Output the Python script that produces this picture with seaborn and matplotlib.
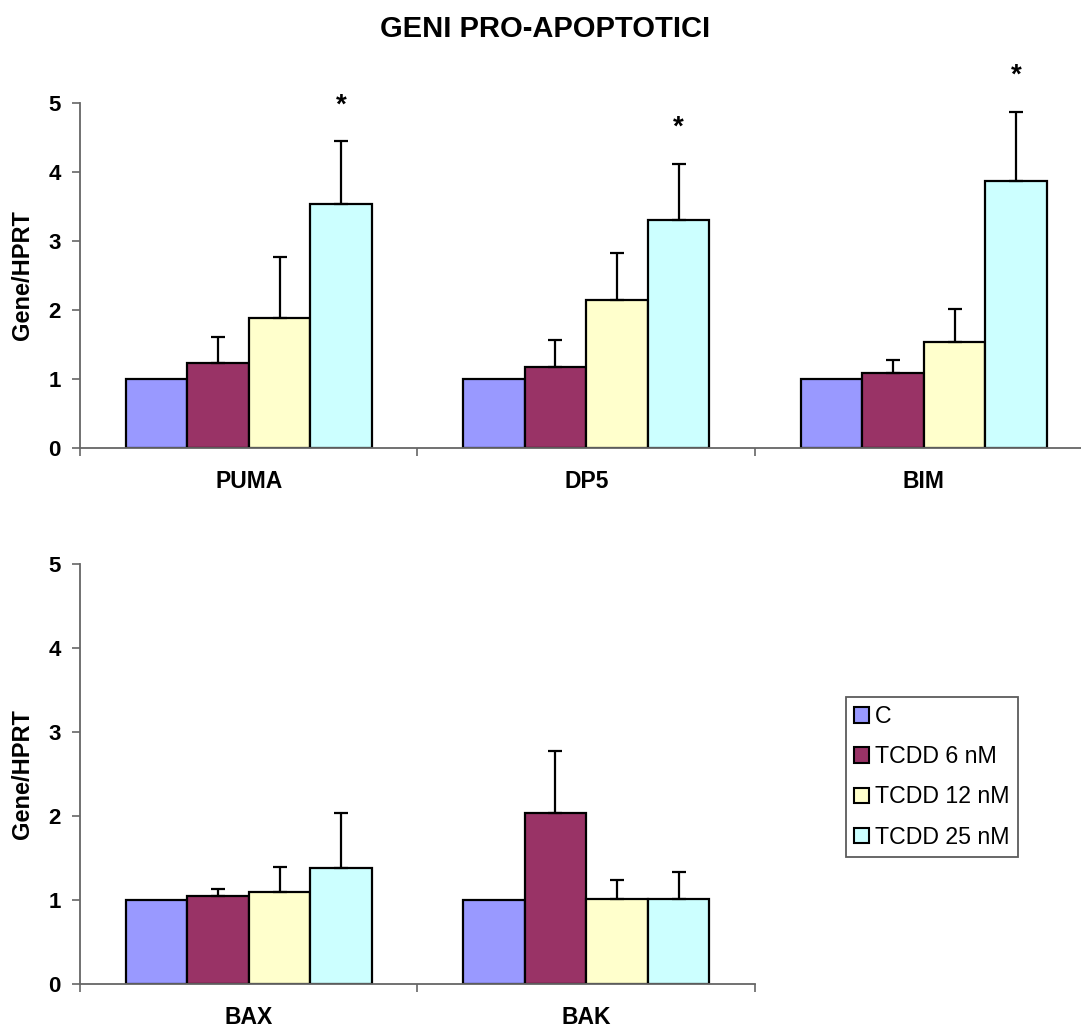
import pandas as pd
import seaborn as sns
import matplotlib.pyplot as plt
from matplotlib.patches import Patch

# Data
treatments = ["C", "TCDD 6 nM", "TCDD 12 nM", "TCDD 25 nM"]
colors = ["#9999FF", "#993366", "#FFFFCC", "#CCFFFF"]

top_genes = ["PUMA", "DP5", "BIM"]
top_c = [1.0, 1.0, 1.0]
top_6 = [1.23, 1.17, 1.08]
top_12 = [1.89, 2.15, 1.53]
top_25 = [3.54, 3.30, 3.87]
top_err_c = [0.0, 0.0, 0.0]
top_err_6 = [0.38, 0.40, 0.19]
top_err_12 = [0.87, 0.67, 0.49]
top_err_25 = [0.90, 0.82, 1.00]
top_stars_25 = ["*", "*", "*"]

bottom_genes = ["BAX", "BAK"]
bottom_c = [1.0, 1.0]
bottom_6 = [1.05, 2.04]
bottom_12 = [1.10, 1.02]
bottom_25 = [1.38, 1.02]
bottom_err_c = [0.0, 0.0]
bottom_err_6 = [0.09, 0.74]
bottom_err_12 = [0.29, 0.22]
bottom_err_25 = [0.66, 0.32]


def long_table(genes, values):
    rows = []
    for t, vals in zip(treatments, values):
        for g, v in zip(genes, vals):
            rows.append({"gene": g, "treatment": t, "value": v})
    return pd.DataFrame(rows)


sns.set_style("white")
plt.rcParams["font.family"] = ["Liberation Sans", "DejaVu Sans"]
plt.rcParams["text.color"] = "black"
plt.rcParams["axes.labelcolor"] = "black"
plt.rcParams["xtick.labelcolor"] = "black"
plt.rcParams["ytick.labelcolor"] = "black"

fig = plt.figure(figsize=(10.81, 10.30), dpi=100)
ax_top = fig.add_axes([0.074, 0.565, 0.9366, 0.3352])
ax_bot = fig.add_axes([0.074, 0.0444, 0.6244, 0.4078])


def draw_panel(ax, genes, values, errors, stars=None):
    df = long_table(genes, values)
    sns.barplot(data=df, x="gene", y="value", hue="treatment",
                hue_order=treatments, order=genes, palette=colors,
                width=0.73, errorbar=None, edgecolor="black",
                linewidth=1.6, saturation=1, legend=False, ax=ax)
    bar_groups = list(ax.containers)
    for cont, errs in zip(bar_groups, errors):
        for bar, e in zip(cont, errs):
            if e <= 0:
                continue
            x = bar.get_x() + bar.get_width() / 2
            y = bar.get_height()
            ax.errorbar(x, y, yerr=[[0], [e]], fmt="none", ecolor="black",
                        elinewidth=1.6, capsize=5, capthick=1.6, zorder=1)
    if stars is not None:
        for bar, e, s in zip(bar_groups[-1], errors[-1], stars):
            x = bar.get_x() + bar.get_width() / 2
            ax.annotate(s, (x, bar.get_height() + e), xytext=(0, 26),
                        textcoords="offset points", ha="center", va="center",
                        fontsize=20, fontweight="bold")
    n = len(genes)
    ax.set_xlim(-0.5, n - 0.5)
    ax.set_ylim(0, 5)
    ax.set_yticks([0, 1, 2, 3, 4, 5])
    ax.set_xticks(range(n))
    ax.set_xticklabels(genes, fontsize=16.5, fontweight="bold")
    ax.set_xticks([i - 0.5 for i in range(n + 1)], minor=True)
    ax.tick_params(axis="x", which="major", length=0, pad=16)
    ax.tick_params(axis="x", which="minor", length=6, width=1.2,
                   direction="out", color="#666666", bottom=True)
    ax.tick_params(axis="y", length=6, width=1.2, direction="out",
                   color="#666666", left=True, labelsize=16, pad=8)
    for lab in ax.get_yticklabels():
        lab.set_fontweight("bold")
    ax.set_xlabel("")
    ax.set_ylabel("Gene/HPRT", fontsize=17, fontweight="bold", labelpad=10)
    for side in ["top", "right"]:
        ax.spines[side].set_visible(False)
    for side in ["left", "bottom"]:
        ax.spines[side].set_color("#666666")
        ax.spines[side].set_linewidth(1.3)


draw_panel(ax_top, top_genes, [top_c, top_6, top_12, top_25],
           [top_err_c, top_err_6, top_err_12, top_err_25], top_stars_25)
draw_panel(ax_bot, bottom_genes, [bottom_c, bottom_6, bottom_12, bottom_25],
           [bottom_err_c, bottom_err_6, bottom_err_12, bottom_err_25])

fig.text(0.504, 0.9641, "GENI PRO-APOPTOTICI", ha="center", va="baseline",
         fontsize=21, fontweight="bold")

handles = [Patch(facecolor=c, edgecolor="black", linewidth=1.5) for c in colors]
leg = fig.legend(handles, treatments, loc="upper left",
                 bbox_to_anchor=(0.7826, 0.3233), bbox_transform=fig.transFigure,
                 fontsize=16.7, frameon=True, fancybox=False, edgecolor="#333333",
                 handlelength=0.65, handleheight=0.65, handletextpad=0.25,
                 labelspacing=0.74, borderpad=0.35, borderaxespad=0)
leg.get_frame().set_linewidth(1.3)

fig.savefig("out.png", dpi=100)
